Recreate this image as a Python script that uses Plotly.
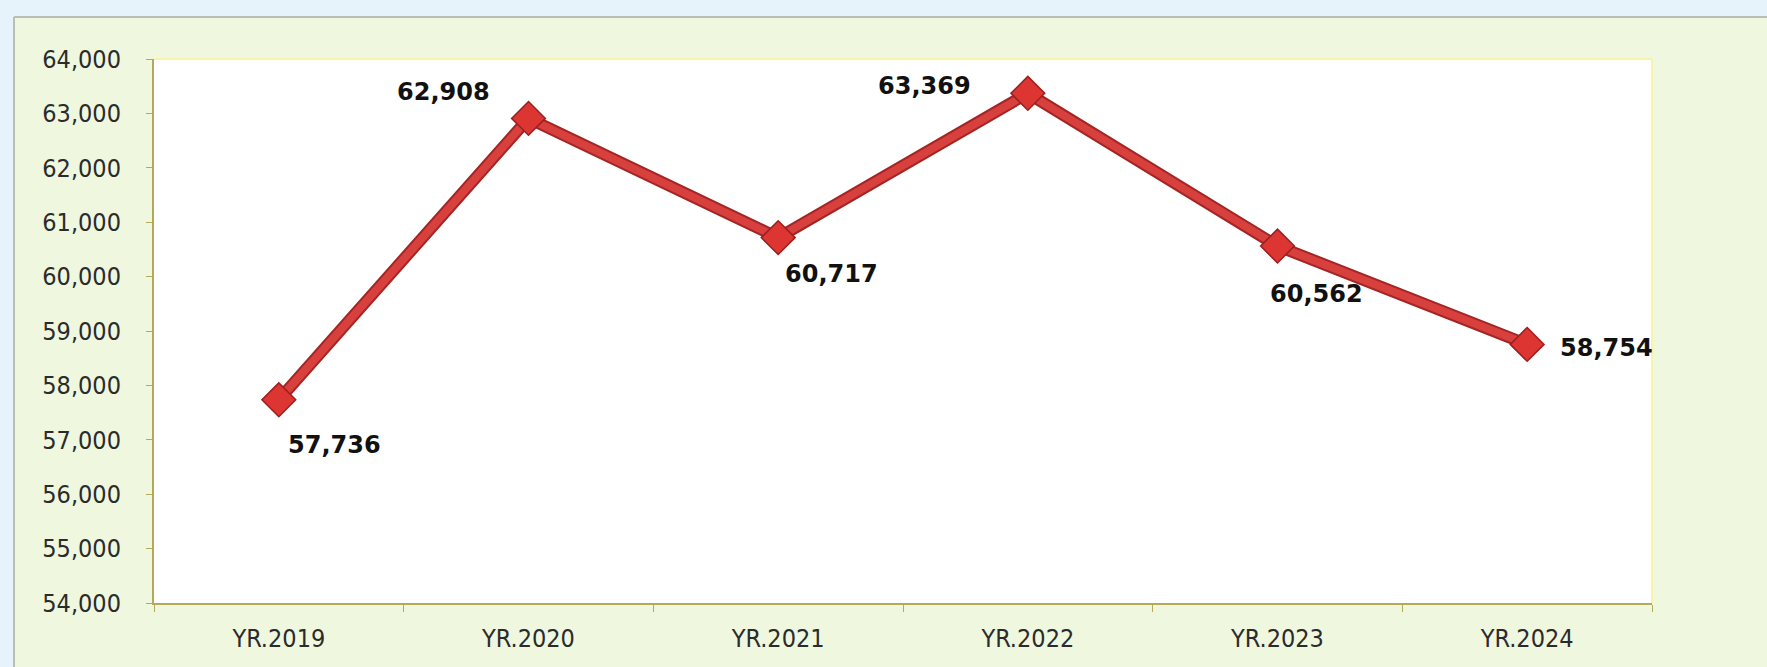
import plotly.graph_objects as go

# Yearly totals
years = ["YR.2019", "YR.2020", "YR.2021", "YR.2022", "YR.2023", "YR.2024"]
values = [57736, 62908, 60717, 63369, 60562, 58754]
value_labels = ["57,736", "62,908", "60,717", "63,369", "60,562", "58,754"]

# Label offsets (pixels) around each marker
label_dx = [56, -85, 53, -103, 39, 79]
label_dy = [-45, 26, -36, 7, -48, -4]

y_range = [54000, 64000]
y_ticks = list(range(54000, 64001, 1000))

W, H = 1767, 667
ML, MR, MT, MB = 154, 115, 59, 64
PW, PH = W - ML - MR, H - MT - MB
axis_col = "#b3a956"


def px(x):
    """page x pixel -> paper coordinate"""
    return (x - ML) / PW


def py(y):
    """page y pixel (from top) -> paper coordinate"""
    return (H - MB - y) / PH


fig = go.Figure()

# darker under-stroke gives the line a bevelled look
fig.add_trace(go.Scatter(
    x=years, y=values, mode="lines",
    line=dict(color="#a52424", width=12),
    hoverinfo="skip", showlegend=False,
))
fig.add_trace(go.Scatter(
    x=years, y=values, mode="lines+markers",
    line=dict(color="#d8403e", width=8),
    marker=dict(symbol="diamond", size=26, color="#dc3532",
                line=dict(color="#9c1f1f", width=1.5)),
    showlegend=False,
))

for x, y, t, dx, dy in zip(years, values, value_labels, label_dx, label_dy):
    fig.add_annotation(
        x=x, y=y, text=t, showarrow=False,
        xshift=dx, yshift=dy,
        font=dict(family="DejaVu Sans", size=24, color="#111111", weight="bold"),
    )

# outer pale-blue frame around the green panel
fig.add_shape(type="rect", xref="paper", yref="paper",
              x0=px(0), x1=px(W), y0=py(17), y1=py(0),
              fillcolor="#e6f3fb", line_width=0, layer="below")
fig.add_shape(type="rect", xref="paper", yref="paper",
              x0=px(0), x1=px(14), y0=py(H), y1=py(0),
              fillcolor="#e6f3fb", line_width=0, layer="below")
# grey edge of the green panel
fig.add_shape(type="line", xref="paper", yref="paper",
              x0=px(14), x1=px(W), y0=py(17), y1=py(17),
              line=dict(color="#b9bfb4", width=2))
fig.add_shape(type="line", xref="paper", yref="paper",
              x0=px(14), x1=px(14), y0=py(H), y1=py(17),
              line=dict(color="#b9bfb4", width=2))
# faint yellow rim on the plot area
fig.add_shape(type="line", xref="paper", yref="paper",
              x0=0, x1=1, y0=1, y1=1, line=dict(color="#f7f3a8", width=2))
fig.add_shape(type="line", xref="paper", yref="paper",
              x0=1, x1=1, y0=0, y1=1, line=dict(color="#f7f3a8", width=2))

fig.update_layout(
    width=W, height=H,
    margin=dict(l=ML, r=MR, t=MT, b=MB),
    paper_bgcolor="#eff7df",
    plot_bgcolor="#ffffff",
    font=dict(family="DejaVu Sans Condensed", size=25, color="#2b2b2b"),
)

fig.update_xaxes(
    type="category", categoryorder="array", categoryarray=years,
    range=[-0.5, len(years) - 0.5],
    showgrid=False, zeroline=False,
    showline=True, linecolor=axis_col, linewidth=2,
    ticks="outside", tickson="boundaries", ticklen=7, tickcolor=axis_col,
    ticklabelstandoff=12,
    tickfont=dict(family="DejaVu Sans Condensed", size=25, color="#2b2b2b"),
)
fig.update_yaxes(
    range=y_range, tickvals=y_ticks, tickformat=",d",
    showgrid=False, zeroline=False,
    showline=True, linecolor=axis_col, linewidth=2,
    ticks="outside", ticklen=6, tickcolor=axis_col,
    ticklabelstandoff=20,
    tickfont=dict(family="DejaVu Sans Condensed", size=25, color="#2b2b2b"),
)

fig.write_html("out.html")
